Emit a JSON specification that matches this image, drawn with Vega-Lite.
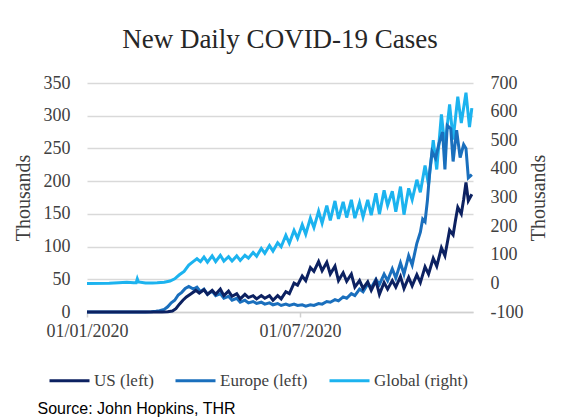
{
  "$schema": "https://vega.github.io/schema/vega-lite/v6.json",
  "width": 386,
  "height": 229,
  "autosize": "none",
  "padding": {"left": 87, "top": 83, "right": 103, "bottom": 106},
  "background": "white",
  "title": {
    "text": "New Daily COVID-19 Cases",
    "font": "Liberation Serif",
    "fontSize": 27,
    "fontWeight": "normal",
    "color": "#262626",
    "anchor": "middle",
    "offset": 20
  },
  "config": {
    "view": {"stroke": null},
    "axis": {
      "labelFont": "Liberation Serif",
      "labelFontSize": 18,
      "labelColor": "#404040",
      "titleFont": "Liberation Serif",
      "titleFontSize": 20,
      "titleFontWeight": "normal",
      "titleColor": "#404040"
    },
    "legend": {
      "labelFont": "Liberation Serif",
      "labelFontSize": 17,
      "labelColor": "#404040"
    }
  },
  "datasets": {
    "covid": [
      {"d": "2020-01-01", "s": "Global (right)", "v": 0},
      {"d": "2020-01-20", "s": "Global (right)", "v": 0.2},
      {"d": "2020-01-28", "s": "Global (right)", "v": 2},
      {"d": "2020-02-04", "s": "Global (right)", "v": 3.5},
      {"d": "2020-02-10", "s": "Global (right)", "v": 2.5},
      {"d": "2020-02-12", "s": "Global (right)", "v": 2},
      {"d": "2020-02-13", "s": "Global (right)", "v": 16},
      {"d": "2020-02-14", "s": "Global (right)", "v": 5},
      {"d": "2020-02-20", "s": "Global (right)", "v": 1},
      {"d": "2020-02-26", "s": "Global (right)", "v": 1.5},
      {"d": "2020-03-01", "s": "Global (right)", "v": 2},
      {"d": "2020-03-07", "s": "Global (right)", "v": 4},
      {"d": "2020-03-12", "s": "Global (right)", "v": 8},
      {"d": "2020-03-16", "s": "Global (right)", "v": 16},
      {"d": "2020-03-20", "s": "Global (right)", "v": 30},
      {"d": "2020-03-24", "s": "Global (right)", "v": 42},
      {"d": "2020-03-28", "s": "Global (right)", "v": 64},
      {"d": "2020-04-01", "s": "Global (right)", "v": 77},
      {"d": "2020-04-04", "s": "Global (right)", "v": 86},
      {"d": "2020-04-07", "s": "Global (right)", "v": 76},
      {"d": "2020-04-10", "s": "Global (right)", "v": 92},
      {"d": "2020-04-13", "s": "Global (right)", "v": 74},
      {"d": "2020-04-17", "s": "Global (right)", "v": 96},
      {"d": "2020-04-20", "s": "Global (right)", "v": 76},
      {"d": "2020-04-24", "s": "Global (right)", "v": 98},
      {"d": "2020-04-27", "s": "Global (right)", "v": 78},
      {"d": "2020-05-01", "s": "Global (right)", "v": 93},
      {"d": "2020-05-04", "s": "Global (right)", "v": 78},
      {"d": "2020-05-08", "s": "Global (right)", "v": 96},
      {"d": "2020-05-11", "s": "Global (right)", "v": 80},
      {"d": "2020-05-15", "s": "Global (right)", "v": 98},
      {"d": "2020-05-18", "s": "Global (right)", "v": 88},
      {"d": "2020-05-22", "s": "Global (right)", "v": 108},
      {"d": "2020-05-25", "s": "Global (right)", "v": 95},
      {"d": "2020-05-29", "s": "Global (right)", "v": 122},
      {"d": "2020-06-01", "s": "Global (right)", "v": 105},
      {"d": "2020-06-05", "s": "Global (right)", "v": 132},
      {"d": "2020-06-08", "s": "Global (right)", "v": 113},
      {"d": "2020-06-12", "s": "Global (right)", "v": 142},
      {"d": "2020-06-15", "s": "Global (right)", "v": 128},
      {"d": "2020-06-19", "s": "Global (right)", "v": 168},
      {"d": "2020-06-22", "s": "Global (right)", "v": 140},
      {"d": "2020-06-26", "s": "Global (right)", "v": 185},
      {"d": "2020-06-29", "s": "Global (right)", "v": 158},
      {"d": "2020-07-03", "s": "Global (right)", "v": 205},
      {"d": "2020-07-06", "s": "Global (right)", "v": 172},
      {"d": "2020-07-10", "s": "Global (right)", "v": 228},
      {"d": "2020-07-13", "s": "Global (right)", "v": 195},
      {"d": "2020-07-17", "s": "Global (right)", "v": 252},
      {"d": "2020-07-20", "s": "Global (right)", "v": 210},
      {"d": "2020-07-24", "s": "Global (right)", "v": 272},
      {"d": "2020-07-27", "s": "Global (right)", "v": 220},
      {"d": "2020-07-31", "s": "Global (right)", "v": 288},
      {"d": "2020-08-03", "s": "Global (right)", "v": 225},
      {"d": "2020-08-07", "s": "Global (right)", "v": 285},
      {"d": "2020-08-10", "s": "Global (right)", "v": 230},
      {"d": "2020-08-14", "s": "Global (right)", "v": 292},
      {"d": "2020-08-17", "s": "Global (right)", "v": 228},
      {"d": "2020-08-21", "s": "Global (right)", "v": 282},
      {"d": "2020-08-24", "s": "Global (right)", "v": 232},
      {"d": "2020-08-28", "s": "Global (right)", "v": 292},
      {"d": "2020-08-31", "s": "Global (right)", "v": 238},
      {"d": "2020-09-04", "s": "Global (right)", "v": 315},
      {"d": "2020-09-07", "s": "Global (right)", "v": 242},
      {"d": "2020-09-11", "s": "Global (right)", "v": 325},
      {"d": "2020-09-14", "s": "Global (right)", "v": 272},
      {"d": "2020-09-18", "s": "Global (right)", "v": 322},
      {"d": "2020-09-21", "s": "Global (right)", "v": 250},
      {"d": "2020-09-25", "s": "Global (right)", "v": 338},
      {"d": "2020-09-28", "s": "Global (right)", "v": 240},
      {"d": "2020-10-02", "s": "Global (right)", "v": 332},
      {"d": "2020-10-05", "s": "Global (right)", "v": 292},
      {"d": "2020-10-09", "s": "Global (right)", "v": 362},
      {"d": "2020-10-12", "s": "Global (right)", "v": 318},
      {"d": "2020-10-16", "s": "Global (right)", "v": 412},
      {"d": "2020-10-19", "s": "Global (right)", "v": 345},
      {"d": "2020-10-23", "s": "Global (right)", "v": 500},
      {"d": "2020-10-26", "s": "Global (right)", "v": 398},
      {"d": "2020-10-30", "s": "Global (right)", "v": 590},
      {"d": "2020-11-02", "s": "Global (right)", "v": 478},
      {"d": "2020-11-06", "s": "Global (right)", "v": 625},
      {"d": "2020-11-09", "s": "Global (right)", "v": 502},
      {"d": "2020-11-13", "s": "Global (right)", "v": 652},
      {"d": "2020-11-16", "s": "Global (right)", "v": 560},
      {"d": "2020-11-20", "s": "Global (right)", "v": 666},
      {"d": "2020-11-23", "s": "Global (right)", "v": 546},
      {"d": "2020-11-25", "s": "Global (right)", "v": 612},

      {"d": "2020-01-01", "s": "Europe (left)", "v": 0},
      {"d": "2020-02-20", "s": "Europe (left)", "v": 0},
      {"d": "2020-02-25", "s": "Europe (left)", "v": 0.4},
      {"d": "2020-02-29", "s": "Europe (left)", "v": 1},
      {"d": "2020-03-03", "s": "Europe (left)", "v": 2},
      {"d": "2020-03-07", "s": "Europe (left)", "v": 4},
      {"d": "2020-03-10", "s": "Europe (left)", "v": 8},
      {"d": "2020-03-13", "s": "Europe (left)", "v": 14},
      {"d": "2020-03-16", "s": "Europe (left)", "v": 18},
      {"d": "2020-03-19", "s": "Europe (left)", "v": 26},
      {"d": "2020-03-22", "s": "Europe (left)", "v": 30},
      {"d": "2020-03-25", "s": "Europe (left)", "v": 36},
      {"d": "2020-03-28", "s": "Europe (left)", "v": 39},
      {"d": "2020-04-01", "s": "Europe (left)", "v": 35},
      {"d": "2020-04-04", "s": "Europe (left)", "v": 38},
      {"d": "2020-04-07", "s": "Europe (left)", "v": 31},
      {"d": "2020-04-10", "s": "Europe (left)", "v": 35},
      {"d": "2020-04-13", "s": "Europe (left)", "v": 27},
      {"d": "2020-04-17", "s": "Europe (left)", "v": 32},
      {"d": "2020-04-20", "s": "Europe (left)", "v": 25},
      {"d": "2020-04-24", "s": "Europe (left)", "v": 28},
      {"d": "2020-04-27", "s": "Europe (left)", "v": 21},
      {"d": "2020-05-01", "s": "Europe (left)", "v": 24},
      {"d": "2020-05-04", "s": "Europe (left)", "v": 18},
      {"d": "2020-05-08", "s": "Europe (left)", "v": 21},
      {"d": "2020-05-11", "s": "Europe (left)", "v": 15},
      {"d": "2020-05-15", "s": "Europe (left)", "v": 18},
      {"d": "2020-05-18", "s": "Europe (left)", "v": 14},
      {"d": "2020-05-22", "s": "Europe (left)", "v": 16},
      {"d": "2020-05-25", "s": "Europe (left)", "v": 13},
      {"d": "2020-05-29", "s": "Europe (left)", "v": 15},
      {"d": "2020-06-01", "s": "Europe (left)", "v": 12},
      {"d": "2020-06-05", "s": "Europe (left)", "v": 14},
      {"d": "2020-06-08", "s": "Europe (left)", "v": 11},
      {"d": "2020-06-12", "s": "Europe (left)", "v": 13},
      {"d": "2020-06-15", "s": "Europe (left)", "v": 10},
      {"d": "2020-06-19", "s": "Europe (left)", "v": 12},
      {"d": "2020-06-22", "s": "Europe (left)", "v": 10},
      {"d": "2020-06-26", "s": "Europe (left)", "v": 12},
      {"d": "2020-06-29", "s": "Europe (left)", "v": 10},
      {"d": "2020-07-03", "s": "Europe (left)", "v": 11},
      {"d": "2020-07-06", "s": "Europe (left)", "v": 9},
      {"d": "2020-07-10", "s": "Europe (left)", "v": 11},
      {"d": "2020-07-13", "s": "Europe (left)", "v": 10},
      {"d": "2020-07-17", "s": "Europe (left)", "v": 13},
      {"d": "2020-07-20", "s": "Europe (left)", "v": 12},
      {"d": "2020-07-24", "s": "Europe (left)", "v": 16},
      {"d": "2020-07-27", "s": "Europe (left)", "v": 15},
      {"d": "2020-07-31", "s": "Europe (left)", "v": 19},
      {"d": "2020-08-03", "s": "Europe (left)", "v": 17},
      {"d": "2020-08-07", "s": "Europe (left)", "v": 23},
      {"d": "2020-08-10", "s": "Europe (left)", "v": 21},
      {"d": "2020-08-14", "s": "Europe (left)", "v": 28},
      {"d": "2020-08-17", "s": "Europe (left)", "v": 25},
      {"d": "2020-08-21", "s": "Europe (left)", "v": 35},
      {"d": "2020-08-24", "s": "Europe (left)", "v": 31},
      {"d": "2020-08-28", "s": "Europe (left)", "v": 43},
      {"d": "2020-08-31", "s": "Europe (left)", "v": 37},
      {"d": "2020-09-04", "s": "Europe (left)", "v": 50},
      {"d": "2020-09-07", "s": "Europe (left)", "v": 42},
      {"d": "2020-09-11", "s": "Europe (left)", "v": 58},
      {"d": "2020-09-14", "s": "Europe (left)", "v": 48},
      {"d": "2020-09-18", "s": "Europe (left)", "v": 66},
      {"d": "2020-09-21", "s": "Europe (left)", "v": 52},
      {"d": "2020-09-25", "s": "Europe (left)", "v": 75},
      {"d": "2020-09-28", "s": "Europe (left)", "v": 58},
      {"d": "2020-10-02", "s": "Europe (left)", "v": 86},
      {"d": "2020-10-05", "s": "Europe (left)", "v": 72},
      {"d": "2020-10-09", "s": "Europe (left)", "v": 105},
      {"d": "2020-10-12", "s": "Europe (left)", "v": 122},
      {"d": "2020-10-14", "s": "Europe (left)", "v": 142},
      {"d": "2020-10-16", "s": "Europe (left)", "v": 138},
      {"d": "2020-10-18", "s": "Europe (left)", "v": 170},
      {"d": "2020-10-20", "s": "Europe (left)", "v": 215},
      {"d": "2020-10-22", "s": "Europe (left)", "v": 245},
      {"d": "2020-10-25", "s": "Europe (left)", "v": 235},
      {"d": "2020-10-28", "s": "Europe (left)", "v": 258},
      {"d": "2020-10-31", "s": "Europe (left)", "v": 275},
      {"d": "2020-11-02", "s": "Europe (left)", "v": 218},
      {"d": "2020-11-04", "s": "Europe (left)", "v": 285},
      {"d": "2020-11-07", "s": "Europe (left)", "v": 280},
      {"d": "2020-11-09", "s": "Europe (left)", "v": 230},
      {"d": "2020-11-12", "s": "Europe (left)", "v": 278},
      {"d": "2020-11-15", "s": "Europe (left)", "v": 236},
      {"d": "2020-11-18", "s": "Europe (left)", "v": 256},
      {"d": "2020-11-20", "s": "Europe (left)", "v": 250},
      {"d": "2020-11-22", "s": "Europe (left)", "v": 205},
      {"d": "2020-11-25", "s": "Europe (left)", "v": 210},

      {"d": "2020-01-01", "s": "US (left)", "v": 0},
      {"d": "2020-03-05", "s": "US (left)", "v": 0},
      {"d": "2020-03-10", "s": "US (left)", "v": 0.4},
      {"d": "2020-03-14", "s": "US (left)", "v": 1.5},
      {"d": "2020-03-17", "s": "US (left)", "v": 5},
      {"d": "2020-03-20", "s": "US (left)", "v": 12},
      {"d": "2020-03-23", "s": "US (left)", "v": 18},
      {"d": "2020-03-26", "s": "US (left)", "v": 23},
      {"d": "2020-03-30", "s": "US (left)", "v": 28},
      {"d": "2020-04-03", "s": "US (left)", "v": 33},
      {"d": "2020-04-06", "s": "US (left)", "v": 29},
      {"d": "2020-04-10", "s": "US (left)", "v": 34},
      {"d": "2020-04-13", "s": "US (left)", "v": 27},
      {"d": "2020-04-17", "s": "US (left)", "v": 33},
      {"d": "2020-04-20", "s": "US (left)", "v": 27},
      {"d": "2020-04-24", "s": "US (left)", "v": 35},
      {"d": "2020-04-27", "s": "US (left)", "v": 25},
      {"d": "2020-05-01", "s": "US (left)", "v": 32},
      {"d": "2020-05-04", "s": "US (left)", "v": 24},
      {"d": "2020-05-08", "s": "US (left)", "v": 28},
      {"d": "2020-05-11", "s": "US (left)", "v": 20},
      {"d": "2020-05-15", "s": "US (left)", "v": 27},
      {"d": "2020-05-18", "s": "US (left)", "v": 22},
      {"d": "2020-05-22", "s": "US (left)", "v": 25},
      {"d": "2020-05-25", "s": "US (left)", "v": 20},
      {"d": "2020-05-29", "s": "US (left)", "v": 25},
      {"d": "2020-06-01", "s": "US (left)", "v": 21},
      {"d": "2020-06-05", "s": "US (left)", "v": 25},
      {"d": "2020-06-08", "s": "US (left)", "v": 18},
      {"d": "2020-06-12", "s": "US (left)", "v": 25},
      {"d": "2020-06-15", "s": "US (left)", "v": 20},
      {"d": "2020-06-19", "s": "US (left)", "v": 31},
      {"d": "2020-06-22", "s": "US (left)", "v": 28},
      {"d": "2020-06-26", "s": "US (left)", "v": 44},
      {"d": "2020-06-29", "s": "US (left)", "v": 41},
      {"d": "2020-07-03", "s": "US (left)", "v": 55},
      {"d": "2020-07-06", "s": "US (left)", "v": 48},
      {"d": "2020-07-10", "s": "US (left)", "v": 68},
      {"d": "2020-07-13", "s": "US (left)", "v": 62},
      {"d": "2020-07-17", "s": "US (left)", "v": 77},
      {"d": "2020-07-20", "s": "US (left)", "v": 63},
      {"d": "2020-07-24", "s": "US (left)", "v": 76},
      {"d": "2020-07-27", "s": "US (left)", "v": 58},
      {"d": "2020-07-31", "s": "US (left)", "v": 70},
      {"d": "2020-08-03", "s": "US (left)", "v": 48},
      {"d": "2020-08-07", "s": "US (left)", "v": 60},
      {"d": "2020-08-10", "s": "US (left)", "v": 47},
      {"d": "2020-08-14", "s": "US (left)", "v": 58},
      {"d": "2020-08-17", "s": "US (left)", "v": 38},
      {"d": "2020-08-21", "s": "US (left)", "v": 48},
      {"d": "2020-08-24", "s": "US (left)", "v": 36},
      {"d": "2020-08-28", "s": "US (left)", "v": 46},
      {"d": "2020-08-31", "s": "US (left)", "v": 33},
      {"d": "2020-09-04", "s": "US (left)", "v": 48},
      {"d": "2020-09-07", "s": "US (left)", "v": 27},
      {"d": "2020-09-11", "s": "US (left)", "v": 45},
      {"d": "2020-09-14", "s": "US (left)", "v": 35},
      {"d": "2020-09-18", "s": "US (left)", "v": 48},
      {"d": "2020-09-21", "s": "US (left)", "v": 38},
      {"d": "2020-09-25", "s": "US (left)", "v": 54},
      {"d": "2020-09-28", "s": "US (left)", "v": 36},
      {"d": "2020-10-02", "s": "US (left)", "v": 53},
      {"d": "2020-10-05", "s": "US (left)", "v": 40},
      {"d": "2020-10-09", "s": "US (left)", "v": 57},
      {"d": "2020-10-12", "s": "US (left)", "v": 45},
      {"d": "2020-10-16", "s": "US (left)", "v": 69},
      {"d": "2020-10-19", "s": "US (left)", "v": 58},
      {"d": "2020-10-23", "s": "US (left)", "v": 82},
      {"d": "2020-10-26", "s": "US (left)", "v": 70},
      {"d": "2020-10-30", "s": "US (left)", "v": 98},
      {"d": "2020-11-02", "s": "US (left)", "v": 86},
      {"d": "2020-11-06", "s": "US (left)", "v": 125},
      {"d": "2020-11-09", "s": "US (left)", "v": 118},
      {"d": "2020-11-11", "s": "US (left)", "v": 140},
      {"d": "2020-11-13", "s": "US (left)", "v": 160},
      {"d": "2020-11-16", "s": "US (left)", "v": 150},
      {"d": "2020-11-18", "s": "US (left)", "v": 172},
      {"d": "2020-11-20", "s": "US (left)", "v": 198},
      {"d": "2020-11-22", "s": "US (left)", "v": 170},
      {"d": "2020-11-25", "s": "US (left)", "v": 180}
    ]
  },
  "data": {"name": "covid"},
  "encoding": {
    "x": {
      "field": "d",
      "type": "temporal",
      "scale": {"type": "utc", "domain": [{"year": 2020, "month": 1, "date": 1, "utc": true}, {"year": 2020, "month": 11, "date": 26, "utc": true}]},
      "axis": {
        "values": [{"year": 2020, "month": 1, "date": 1, "utc": true}, {"year": 2020, "month": 7, "date": 1, "utc": true}],
        "labelExpr": "utcFormat(datum.value, '%d/%m/%Y')",
        "labelAlign": "center",
        "labelPadding": 5,
        "grid": false,
        "domainColor": "#d0d0d0",
        "domainWidth": 1.5,
        "tickColor": "#d0d0d0",
        "tickSize": 5,
        "tickWidth": 1.5,
        "title": "Source: John Hopkins, THR",
        "titleFont": "Liberation Sans",
        "titleFontSize": 16,
        "titleColor": "#000000",
        "titleAnchor": "start",
        "titleAlign": "left",
        "titleBaseline": "alphabetic",
        "titleX": -50,
        "titleY": 101
      }
    },
    "color": {
      "field": "s",
      "type": "nominal",
      "scale": {
        "domain": ["US (left)", "Europe (left)", "Global (right)"],
        "range": ["#0c2161", "#1a6fbd", "#1cb3ef"]
      },
      "legend": {
        "title": null,
        "orient": "none",
        "direction": "horizontal",
        "legendX": -39,
        "legendY": 276,
        "symbolType": "stroke",
        "symbolSize": 1600,
        "symbolStrokeWidth": 3,
        "labelOffset": 3,
        "columnPadding": 15
      }
    }
  },
  "layer": [
    {
      "transform": [{"filter": "datum.s === 'Global (right)'"}],
      "mark": {"type": "line", "strokeWidth": 3},
      "encoding": {
        "y": {
          "field": "v",
          "type": "quantitative",
          "scale": {"domain": [-100, 700], "nice": false, "zero": false},
          "axis": {
            "orient": "right",
            "values": [-100, 0, 100, 200, 300, 400, 500, 600, 700],
            "labelExpr": "'' + datum.value",
            "grid": false,
            "domain": false,
            "ticks": false,
            "labelPadding": 17,
            "title": "Thousands",
            "titleAngle": 270,
            "titlePadding": 26
          }
        }
      }
    },
    {
      "transform": [{"filter": "datum.s !== 'Global (right)'"}],
      "mark": {"type": "line", "strokeWidth": 3},
      "encoding": {
        "y": {
          "field": "v",
          "type": "quantitative",
          "scale": {"domain": [0, 350], "nice": false},
          "axis": {
            "orient": "left",
            "values": [0, 50, 100, 150, 200, 250, 300, 350],
            "grid": true,
            "gridColor": "#d9d9d9",
            "gridWidth": 1.5,
            "domain": false,
            "ticks": false,
            "labelPadding": 17,
            "title": "Thousands",
            "titlePadding": 10
          }
        }
      }
    }
  ],
  "resolve": {"scale": {"y": "independent"}}
}
